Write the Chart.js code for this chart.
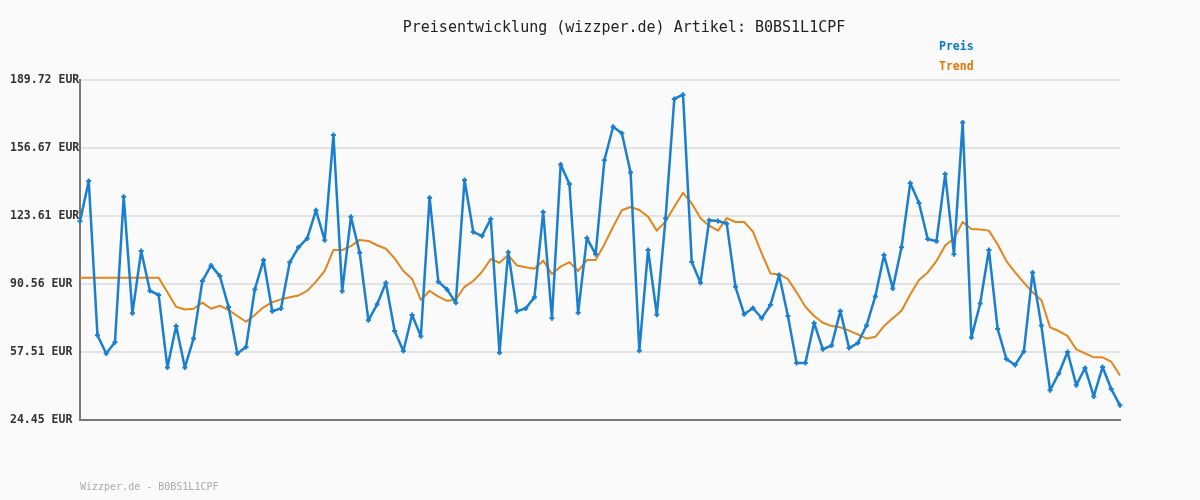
<!DOCTYPE html>
<html>
<head>
<meta charset="utf-8">
<script src="https://cdn.jsdelivr.net/npm/chart.js@4.4.1/dist/chart.umd.min.js"></script>
<style>
    html, body { margin: 0; padding: 0; background: #fafafa; }
    #wrap { width: 1200px; height: 500px; position: relative; }
</style>
</head>
<body>
<div id="wrap"><canvas id="priceChart" width="1200" height="500"></canvas></div>
<script>
// Preis (EUR), one value per day
const preis = [
    121.0, 140.6, 65.6, 56.8, 62.2, 133.0, 76.3, 106.6, 87.3, 85.2,
    50.0, 70.1, 50.0, 64.1, 92.0, 99.6, 94.4, 79.4, 56.8, 59.9,
    87.9, 102.2, 77.3, 78.7, 101.1, 108.4, 112.7, 126.4, 111.8, 163.0,
    87.0, 123.3, 105.8, 72.9, 80.7, 91.2, 67.7, 58.0, 75.5, 65.1,
    132.5, 91.7, 87.9, 81.5, 141.1, 115.8, 113.9, 122.2, 57.2, 106.0,
    77.3, 78.7, 84.1, 125.5, 73.9, 148.6, 139.2, 76.6, 112.9, 105.0,
    150.7, 167.0, 163.8, 144.8, 58.1, 107.1, 75.6, 122.5, 180.5, 182.6,
    101.2, 91.2, 121.6, 121.2, 119.9, 89.2, 75.8, 78.9, 73.9, 80.3,
    94.9, 75.0, 52.1, 52.1, 71.6, 58.8, 60.7, 77.4, 59.4, 61.9,
    70.4, 84.5, 104.6, 88.4, 108.4, 139.6, 129.9, 112.4, 111.3, 144.0,
    105.0, 169.1, 64.6, 81.1, 107.1, 68.7, 54.1, 51.2, 57.8, 96.2,
    70.4, 38.9, 47.1, 57.5, 41.4, 49.7, 35.9, 50.2, 39.5, 31.6
];

// Trend (EUR)
const trend = [
    93.6, 93.6, 93.6, 93.6, 93.6, 93.6, 93.6, 93.6, 93.6, 93.6,
    86.5, 79.5, 78.2, 78.5, 81.5, 78.5, 80.0, 77.9, 75.0, 72.2,
    75.5, 79.2, 81.7, 83.1, 84.1, 85.0, 87.2, 91.7, 96.9, 107.1,
    107.1, 109.0, 112.0, 111.5, 109.4, 107.7, 103.0, 96.9, 93.0, 82.8,
    87.3, 84.4, 82.4, 82.9, 89.2, 92.0, 96.5, 102.7, 100.9, 104.6,
    99.5, 98.7, 98.0, 101.9, 95.4, 99.0, 101.2, 96.9, 102.2, 102.2,
    109.8, 118.4, 126.4, 128.0, 126.5, 123.3, 116.5, 121.0, 128.1, 134.9,
    129.7, 122.5, 118.9, 116.5, 122.6, 120.7, 120.7, 116.0, 105.4, 95.7,
    95.2, 93.0, 86.5, 79.5, 75.0, 71.7, 70.1, 69.5, 67.9, 66.1,
    64.0, 64.9, 70.1, 73.9, 77.6, 85.5, 92.5, 96.2, 101.7, 109.3,
    112.7, 120.7, 117.3, 117.0, 116.5, 109.8, 101.7, 96.2, 91.2, 86.5,
    82.8, 69.5, 67.7, 65.3, 58.8, 56.8, 54.9, 54.9, 52.8, 46.1
];

const yTicks = [24.45, 57.51, 90.56, 123.61, 156.67, 189.72];
const yTickLabels = ["24.45 EUR", "57.51 EUR", "90.56 EUR", "123.61 EUR", "156.67 EUR", "189.72 EUR"];

const titleText = "Preisentwicklung (wizzper.de) Artikel: B0BS1L1CPF";
const footerText = "Wizzper.de - B0BS1L1CPF";

const mono = "'DejaVu Sans Mono', 'Liberation Mono', monospace";
const blue = "#1a7fcf";
const orange = "#e0861c";

// background, title, legend and footer text
const decorPlugin = {
    id: "decor",
    beforeDraw(chart) {
        const c = chart.ctx;
        c.save();
        c.fillStyle = "#fafafa";
        c.fillRect(0, 0, chart.width, chart.height);
        c.restore();
    },
    afterDraw(chart) {
        const c = chart.ctx;
        c.save();
        c.textBaseline = "middle";
        c.textAlign = "center";
        c.fillStyle = "#222";
        c.font = "15px " + mono;
        c.fillText(titleText, 624, 28);

        c.textAlign = "left";
        c.font = "bold 11.5px " + mono;
        c.fillStyle = "#0a78c8";
        c.fillText("Preis", 939, 47);
        c.fillStyle = "#e07800";
        c.fillText("Trend", 939, 67);

        c.font = "10px " + mono;
        c.fillStyle = "#aaaaaa";
        c.fillText(footerText, 80, 487);
        c.restore();
    }
};

const ctx = document.getElementById("priceChart").getContext("2d");

new Chart(ctx, {
    type: "line",
    data: {
        labels: preis.map((_, i) => i + 1),
        datasets: [
            {
                label: "Trend",
                data: trend,
                borderColor: orange,
                borderWidth: 2,
                borderJoinStyle: "round",
                pointRadius: 0,
                tension: 0,
                fill: false,
                order: 2
            },
            {
                label: "Preis",
                data: preis,
                borderColor: blue,
                borderWidth: 2.5,
                borderJoinStyle: "round",
                pointStyle: "cross",
                pointRadius: 2.5,
                pointBorderWidth: 2,
                pointBorderColor: blue,
                pointBackgroundColor: blue,
                tension: 0,
                fill: false,
                order: 1
            }
        ]
    },
    options: {
        responsive: false,
        animation: false,
        layout: { padding: { left: 10, right: 80, top: 80, bottom: 80 } },
        plugins: {
            legend: { display: false },
            title: { display: false },
            tooltip: { enabled: false }
        },
        scales: {
            x: {
                type: "category",
                offset: false,
                ticks: { display: false },
                grid: { display: false, drawTicks: false },
                border: { display: true, color: "#777777", width: 2 },
                afterFit(scale) { scale.height = 0; }
            },
            y: {
                min: 24.45,
                max: 189.72,
                afterBuildTicks(scale) {
                    scale.ticks = yTicks.map(v => ({ value: v }));
                },
                afterFit(scale) { scale.width = 70; },
                ticks: {
                    crossAlign: "far",
                    padding: 0,
                    color: "#333333",
                    font: { family: mono, size: 11.5, weight: "bold" },
                    callback(value) {
                        const i = yTicks.indexOf(value);
                        return i >= 0 ? yTickLabels[i] : "";
                    }
                },
                grid: { color: "#e3e3e3", lineWidth: 2, drawTicks: false },
                border: { display: true, color: "#777777", width: 2 }
            }
        }
    },
    plugins: [decorPlugin]
});
</script>
</body>
</html>
